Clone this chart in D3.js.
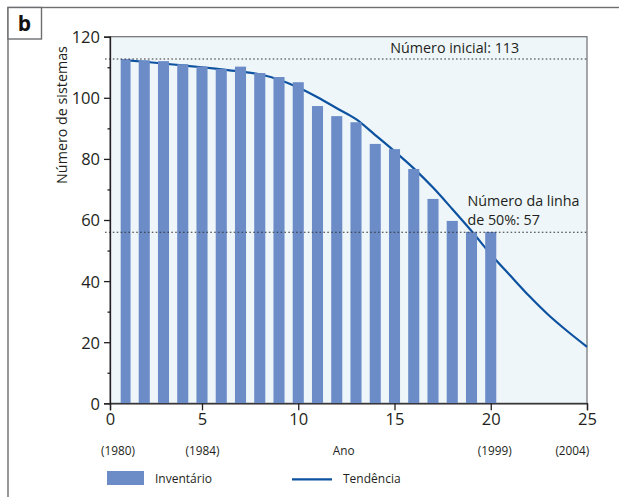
<!DOCTYPE html>
<html>
<head>
<meta charset="utf-8">
<script src="https://cdn.jsdelivr.net/npm/d3@7"></script>
<style>
  html, body { margin: 0; padding: 0; background: #fff; }
  svg { display: block; }
  text { font-family: "Open Sans", "Noto Sans", sans-serif; fill: #231f20; }
</style>
</head>
<body>
<svg id="chart" width="619" height="497"></svg>
<script>
// ---- data ----
const years = [1,2,3,4,5,6,7,8,9,10,11,12,13,14,15,16,17,18,19,20];
const inventory = [112.7,112.3,112,111,110.2,109.4,110.2,108.1,106.8,105.1,97.3,94,92,84.9,83.2,76.7,66.9,59.7,56.1,56.1];
const trendX = [1,2,3,4,5,6,7,8,9,10,11,12,13,14,15,16,17,18,19,20,21,22,23,24,25];
const trendY = [112.3,111.8,111.2,110.6,110.0,109.3,108.6,107.7,105.9,103.4,100.2,96.6,93.0,87.8,82.5,76.9,70.6,63.6,56.4,48.8,41.9,35.1,28.9,23.5,18.5];
const yTicks = [0,20,40,60,80,100,120];
const yMinorTicks = [10,30,50,70,90,110];
const xTicks = [0,5,10,15,20,25];
const subLabels = ["(1980)","(1984)","Ano","(1999)","(2004)"];
const subLabelPos = [0.53,5.03,12.36,20.21,24.24];
const initialValue = 112.7;
const halfValue = 56;
const initialLabel = "Número inicial: 113";
const halfLabel = ["Número da linha","de 50%: 57"];
const yTitle = "Número de sistemas";
const legendLabels = ["Inventário","Tendência"];
const panelLabel = "b";

// ---- layout ----
const svg = d3.select("#chart");
const x = d3.scaleLinear().domain([0,1,25]).range([110,125,587]);
const y = d3.scaleLinear().domain([0,120]).range([403.3,36.7]);
const barColor = "#6b8cc7", lineColor = "#0d52a0", grey = "#6d6e70";

// outer frame
svg.append("rect").attr("x",8).attr("y",7.5).attr("width",640).attr("height",520)
  .attr("fill","none").attr("stroke",grey).attr("stroke-width",1.4);
svg.append("rect").attr("x",8).attr("y",7.5).attr("width",33.5).attr("height",31.5)
  .attr("fill","#fff").attr("stroke",grey).attr("stroke-width",1.4);
svg.append("text").attr("x",24.5).attr("y",31).attr("text-anchor","middle")
  .style("font-size","21px").style("font-weight","bold").style("fill","#111").text(panelLabel);

// plot background
svg.append("rect").attr("x",x(0)).attr("y",y(120))
  .attr("width",x(25)-x(0)).attr("height",y(0)-y(120))
  .attr("fill","#eef6f9").attr("stroke",grey).attr("stroke-width",1.2);

// trend line (behind bars)
svg.append("path").datum(trendX.map((d,i)=>[d,trendY[i]]))
  .attr("fill","none").attr("stroke",lineColor).attr("stroke-width",2.2)
  .attr("d", d3.line().x(d=>x(d[0])).y(d=>y(d[1])).curve(d3.curveMonotoneX));

// bars
const bw = 0.575;
svg.append("g").selectAll("rect").data(years).join("rect")
  .attr("x", d=>x(d-bw/2)).attr("width", d=>x(d+bw/2)-x(d-bw/2))
  .attr("y", (d,i)=>y(inventory[i])).attr("height",(d,i)=>y(0)-y(inventory[i]))
  .attr("fill", barColor);

// reference lines
[initialValue, halfValue].forEach(v=>{
  svg.append("line").attr("x1",x(0)-5).attr("x2",x(25)).attr("y1",y(v)).attr("y2",y(v))
    .attr("stroke","#333").attr("stroke-width",1.1).attr("stroke-dasharray","1.6,2.3");
});
svg.append("text").attr("x",x(18.13)).attr("y",y(initialValue)-6.5).attr("text-anchor","middle")
  .style("font-size","14.3px").text(initialLabel);
svg.append("text").attr("x",x(18.79)).attr("y",y(halfValue)-26.5)
  .style("font-size","14.3px").text(halfLabel[0]);
svg.append("text").attr("x",x(18.79)).attr("y",y(halfValue)-7.5)
  .style("font-size","14.3px").text(halfLabel[1]);

// axes
const yAxis = svg.append("g").attr("transform",`translate(${x(0)},0)`)
  .call(d3.axisLeft(y).tickValues(yTicks).tickSize(6).tickPadding(4));
const yMinor = svg.append("g").attr("transform",`translate(${x(0)},0)`)
  .call(d3.axisLeft(y).tickValues(yMinorTicks).tickSize(2.5).tickFormat(""));
yMinor.select(".domain").remove();
const xAxis = svg.append("g").attr("transform",`translate(0,${y(0)})`)
  .call(d3.axisBottom(x).tickValues(xTicks).tickSize(7).tickPadding(3));
[yAxis, yMinor, xAxis].forEach(g=>{
  g.selectAll("path,line").attr("stroke","#231f20").attr("stroke-width",1.3);
  g.selectAll("text").style("font-size","16.5px").style("font-family",'"Open Sans", sans-serif').attr("fill","#231f20");
});
yAxis.selectAll("text").attr("dy","0.36em");

// sub labels under x axis
svg.append("g").selectAll("text").data(subLabels).join("text")
  .attr("x",(d,i)=>x(subLabelPos[i])).attr("y",455).attr("text-anchor","middle")
  .style("font-size","11.8px").text(d=>d);

// y title
svg.append("text").attr("transform","translate(66.5,115) rotate(-90)")
  .attr("text-anchor","middle").style("font-size","14.3px").text(yTitle);

// legend
svg.append("rect").attr("x",107).attr("y",471).attr("width",37).attr("height",14).attr("fill",barColor);
svg.append("text").attr("x",155).attr("y",482.5).style("font-size","12px").text(legendLabels[0]);
svg.append("line").attr("x1",292).attr("x2",332).attr("y1",479.3).attr("y2",479.3)
  .attr("stroke",lineColor).attr("stroke-width",2.2);
svg.append("text").attr("x",343).attr("y",482.5).style("font-size","12px").text(legendLabels[1]);
</script>
</body>
</html>
